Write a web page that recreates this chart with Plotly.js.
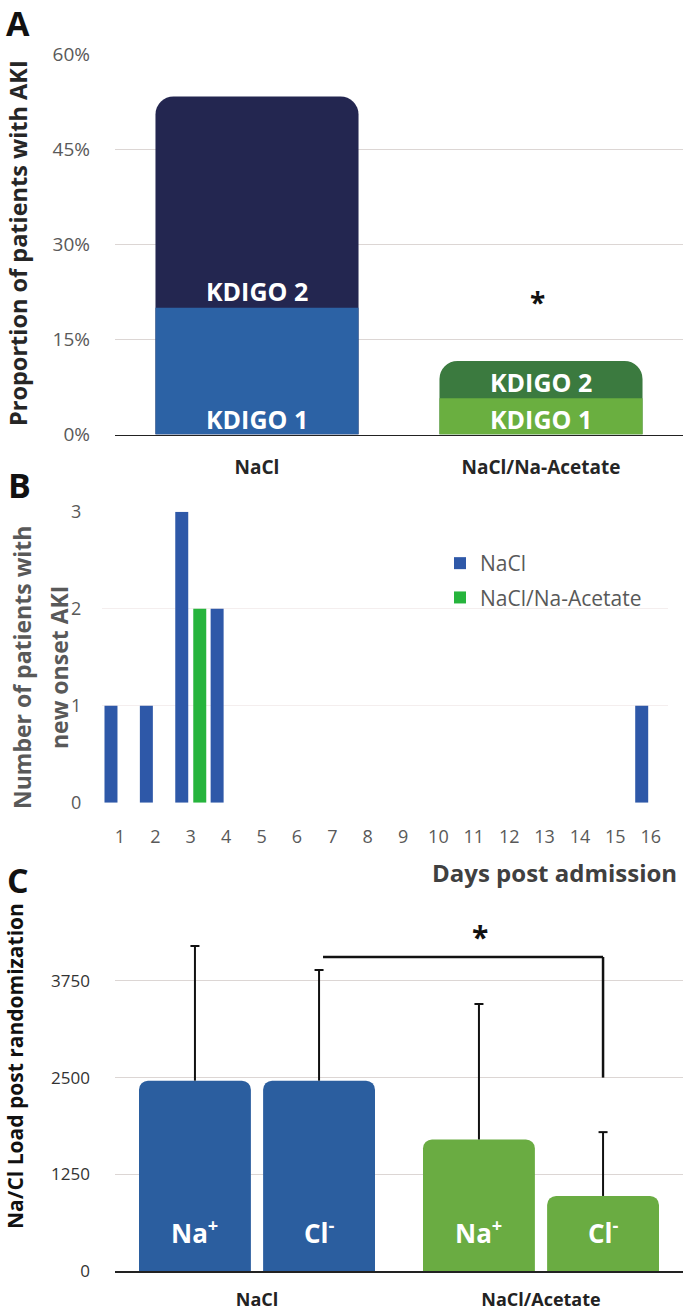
<!DOCTYPE html>
<html>
<head>
<meta charset="utf-8">
<script src="https://cdn.plot.ly/plotly-3.0.1.min.js"></script>
<style>
html,body{margin:0;padding:0;background:#fff;}
#chart{width:685px;height:1313px;}
</style>
</head>
<body>
<div id="chart"></div>
<script>
// ---------- DATA ----------
// Panel A: proportion of patients with AKI (%)
const groupsA = ['NaCl', 'NaCl/Na-Acetate'];
const kdigo1 = [20.0, 5.7];
const kdigo2 = [33.3, 5.9];

// Panel B: number of patients with new onset AKI by day
const days = ['1','2','3','4','5','6','7','8','9','10','11','12','13','14','15','16'];
const onsetNaCl    = [1, 1, 3, 2, 0, 0, 0, 0, 0, 0, 0, 0, 0, 0, 0, 1];
const onsetAcetate = [0, 0, 2, 0, 0, 0, 0, 0, 0, 0, 0, 0, 0, 0, 0, 0];

// Panel C: Na / Cl load post randomization (mean, SD)
const groupsC = ['NaCl', 'NaCl/Acetate'];
const naLoad = [2460, 1700];
const naSD   = [1740, 1750];
const clLoad = [2460, 970];
const clSD   = [1430, 825];

// ---------- STYLE ----------
const W = 685, H = 1313;
const fx = p => p / W;
const fy = p => 1 - p / H;
const FONT = 'Open Sans, Noto Sans, sans-serif';

const cA1 = ['#2C62A5', '#6AAF40'];
const cA2 = ['#232650', '#3B7A3F'];
const cB = ['#2E58A8', '#26B43C'];
const cC = ['#2B5E9F', '#6AAC42'];

const wA = 0.715;
const wB = 0.367, offB = [-0.438, 0.071];
const wC = 0.394, offC = [-0.4155, 0.0215];

const totalA = kdigo1.map((v, i) => v + kdigo2[i]);

const traces = [];
// Panel A: full stack (KDIGO 2 colour, rounded top), KDIGO 1 drawn over its lower part
traces.push({type:'bar', name:'KDIGO 2', x: groupsA, y: totalA, xaxis:'x', yaxis:'y', width: wA, offset: -wA/2,
  marker:{color: cA2, line:{width:0}, cornerradius: 18}, showlegend:false, hoverinfo:'skip'});
traces.push({type:'bar', name:'KDIGO 1', x: groupsA, y: kdigo1, xaxis:'x', yaxis:'y', width: wA, offset: -wA/2,
  marker:{color: cA1, line:{width:0}}, showlegend:false, hoverinfo:'skip'});
// Panel B
traces.push({type:'bar', name:'NaCl', legendgroup:'g1', x: days, y: onsetNaCl, xaxis:'x2', yaxis:'y2',
  width: wB, offset: offB[0], marker:{color: cB[0], line:{width:0}}, hoverinfo:'skip'});
traces.push({type:'bar', name:'NaCl/Na-Acetate', legendgroup:'g2', x: days, y: onsetAcetate, xaxis:'x2', yaxis:'y2',
  width: wB, offset: offB[1], marker:{color: cB[1], line:{width:0}}, hoverinfo:'skip'});
// Panel C
const errStyle = {color:'#111', thickness:2, width:0, symmetric:false, type:'data'};
traces.push({type:'bar', x: groupsC, y: naLoad, xaxis:'x3', yaxis:'y3', width: wC, offset: offC[0],
  marker:{color: cC, line:{width:0}, cornerradius: 9},
  error_y: Object.assign({array: naSD, arrayminus: naSD.map(() => 0)}, errStyle),
  showlegend:false, hoverinfo:'skip'});
traces.push({type:'bar', x: groupsC, y: clLoad, xaxis:'x3', yaxis:'y3', width: wC, offset: offC[1],
  marker:{color: cC, line:{width:0}, cornerradius: 9},
  error_y: Object.assign({array: clSD, arrayminus: clSD.map(() => 0)}, errStyle),
  showlegend:false, hoverinfo:'skip'});

// ---------- ANNOTATIONS / SHAPES ----------
const ann = [];
const shapes = [];
// panel letters
[['A', 18, 23], ['B', 19, 485], ['C', 18, 880]].forEach(([t, x, y]) => {
  ann.push({text: '<b>' + t + '</b>', xref:'paper', yref:'paper', x: fx(x), y: fy(y),
    xanchor:'center', yanchor:'middle', showarrow:false, font:{family: FONT, size: 34, color:'#111'}});
});
// axis titles
ann.push({text:'<b>Proportion of patients with AKI</b>', xref:'paper', yref:'paper', x: fx(18), y: fy(243),
  textangle:-90, xanchor:'center', yanchor:'middle', showarrow:false, font:{family: FONT, size: 23.5, color:'#262626'}});
ann.push({text:'<b>Number of patients with</b>', xref:'paper', yref:'paper', x: fx(22), y: fy(668),
  textangle:-90, xanchor:'center', yanchor:'middle', showarrow:false, font:{family: FONT, size: 23, color:'#595959'}});
ann.push({text:'<b>new onset AKI</b>', xref:'paper', yref:'paper', x: fx(59), y: fy(668),
  textangle:-90, xanchor:'center', yanchor:'middle', showarrow:false, font:{family: FONT, size: 23, color:'#595959'}});
ann.push({text:'<b>Days post admission</b>', xref:'paper', yref:'paper', x: fx(679), y: fy(872),
  xanchor:'right', yanchor:'middle', showarrow:false, font:{family: FONT, size: 24, color:'#404040'}});
ann.push({text:'<b>Na/Cl Load post randomization</b>', xref:'paper', yref:'paper', x: fx(15), y: fy(1066),
  textangle:-90, xanchor:'center', yanchor:'middle', showarrow:false, font:{family: FONT, size: 21, color:'#111'}});

// KDIGO labels in panel A
groupsA.forEach((g, i) => {
  ann.push({text:'<b>KDIGO 1</b>', xref:'x', yref:'y', x: g, y: 0, yshift: 15, xanchor:'center', yanchor:'middle',
    showarrow:false, font:{family: FONT, size: 25, color:'#ffffff'}});
  ann.push({text:'<b>KDIGO 2</b>', xref:'x', yref:'y', x: g, y: kdigo1[i], yshift: 16.5, xanchor:'center', yanchor:'middle',
    showarrow:false, font:{family: FONT, size: 25, color:'#ffffff'}});
});
// significance star panel A
ann.push({text:'<b>*</b>', xref:'x', yref:'y', x: groupsA[1], xshift: -4, y: 20.9, xanchor:'center', yanchor:'middle',
  showarrow:false, font:{family: FONT, size: 28, color:'#111'}});

// Panel C labels, caps, bracket
const ionLabels = ['Na<sup>+</sup>', 'Cl<sup>-</sup>'];
const loads = [naLoad, clLoad], sds = [naSD, clSD];
groupsC.forEach((g, i) => {
  [0, 1].forEach(k => {
    const xc = i + offC[k] + wC / 2;
    ann.push({text:'<b>' + ionLabels[k] + '</b>', xref:'x3', yref:'y3', x: xc, y: 0, yshift: 39,
      xanchor:'center', yanchor:'middle', showarrow:false, font:{family: FONT, size: 26, color:'#ffffff'}});
    shapes.push({type:'line', xref:'x3', yref:'y3', xsizemode:'pixel', xanchor: xc, x0: -4.5, x1: 4.5,
      y0: loads[k][i] + sds[k][i], y1: loads[k][i] + sds[k][i], line:{color:'#111', width:2}});
  });
});
const brLeft = 0 + offC[1] + wC / 2 + 0.014;
const brRight = 1 + offC[1] + wC / 2;
shapes.push({type:'line', xref:'x3', yref:'y3', x0: brLeft, x1: brRight, y0: 4060, y1: 4060, line:{color:'#111', width:2.5}});
shapes.push({type:'line', xref:'x3', yref:'y3', x0: brRight, x1: brRight, y0: 4060, y1: 2500, line:{color:'#111', width:2.5}});
ann.push({text:'<b>*</b>', xref:'x3', yref:'y3', x: 0.785, y: 4330, xanchor:'center', yanchor:'middle',
  showarrow:false, font:{family: FONT, size: 30, color:'#111'}});

const gridA = '#dcd6d4';
const layout = {
  width: W, height: H,
  margin: {l:0, r:0, t:0, b:0},
  paper_bgcolor:'#ffffff', plot_bgcolor:'#ffffff',
  barmode:'overlay',
  font:{family: FONT},
  showlegend: true,
  legend:{x: fx(440), y: fy(543), xanchor:'left', yanchor:'top', traceorder:'grouped', tracegroupgap: 4,
    bgcolor:'rgba(0,0,0,0)', font:{family: FONT, size: 21, color:'#595959'}},
  xaxis:{domain:[fx(115), fx(683)], anchor:'y', type:'category', ticks:'', showgrid:false, zeroline:false,
    showline:true, linecolor:'#222', linewidth:1.5, ticklabelstandoff: 15,
    tickfont:{family: FONT, size: 19, color:'#262626', weight:'bold'}, fixedrange:true},
  yaxis:{domain:[fy(434.5), fy(54)], anchor:'x', range:[0, 60], tick0:0, dtick:15, ticksuffix:'%',
    showgrid:true, gridcolor: gridA, gridwidth:1, zeroline:false, showline:false, ticks:'',
    ticklabelstandoff: 24, tickfont:{family: FONT, size: 19, color:'#595959'}, fixedrange:true},
  xaxis2:{domain:[fx(102.3), fx(668.4)], anchor:'y2', type:'category', ticks:'', showgrid:false, zeroline:false,
    showline:false, ticklabelstandoff: 21, tickfont:{family: FONT, size: 18, color:'#595959'}, fixedrange:true},
  yaxis2:{domain:[fy(802.7), fy(511.7)], anchor:'x2', range:[0, 3], tick0:0, dtick:1,
    showgrid:true, gridcolor:'#f4eeee', zeroline:false, showline:false, ticks:'',
    ticklabelstandoff: 20, tickfont:{family: FONT, size: 18, color:'#595959'}, fixedrange:true},
  xaxis3:{domain:[fx(115), fx(683)], anchor:'y3', type:'category', ticks:'', showgrid:false, zeroline:false,
    showline:true, linecolor:'#222', linewidth:1.5, ticklabelstandoff: 12,
    tickfont:{family: FONT, size: 18, color:'#222', weight:'bold'}, fixedrange:true},
  yaxis3:{domain:[fy(1271), fy(930.6)], anchor:'x3', range:[0, 4400], tick0:0, dtick:1250,
    showgrid:true, gridcolor: gridA, gridwidth:1, zeroline:false, showline:false, ticks:'',
    ticklabelstandoff: 24, tickfont:{family: FONT, size: 17, color:'#333'}, fixedrange:true},
  annotations: ann,
  shapes: shapes
};

Plotly.newPlot('chart', traces, layout, {displayModeBar:false, staticPlot:true});
</script>
</body>
</html>
